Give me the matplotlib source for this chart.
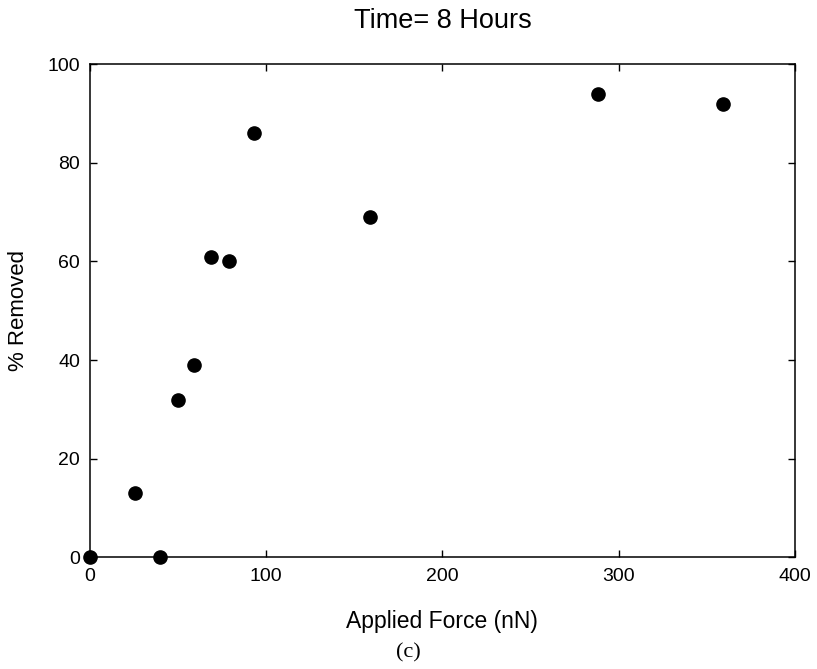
import matplotlib
matplotlib.use('Agg')
import matplotlib.pyplot as plt

force = [0, 25.5, 40, 50, 59, 69, 79, 93, 159, 288, 359]  # nN
removed = [0, 13, 0, 32, 39, 61, 60, 86, 69, 94, 92]  # %

plt.rcParams['font.family'] = ['Liberation Sans', 'DejaVu Sans']

fig = plt.figure(figsize=(8.17, 6.69), dpi=100)
ax = fig.add_axes([0.110, 0.167, 0.863, 0.737])
ax.plot(force, removed, 'o', color='black', markersize=9.5, clip_on=False)
ax.set_xlim(0, 400)
ax.set_ylim(0, 100)
ax.set_xticks([0, 100, 200, 300, 400])
ax.set_yticks([0, 20, 40, 60, 80, 100])
ax.tick_params(direction='in', top=True, right=True, labelsize=14,
               length=5, width=1.0)
ax.tick_params(axis='x', pad=8)
ax.tick_params(axis='y', pad=7)
for s in ax.spines.values():
    s.set_linewidth(1.1)
ax.set_xlabel('Applied Force (nN)', fontsize=16.5, labelpad=18)
ax.set_ylabel('% Removed', fontsize=16, labelpad=13)
ax.set_title('Time= 8 Hours', fontsize=19.5, pad=26)
fig.text(408 / 817, 1 - 653 / 669, '(c)', fontsize=16,
         family='Liberation Serif', ha='center', va='center')

fig.savefig('out.png', dpi=100)
